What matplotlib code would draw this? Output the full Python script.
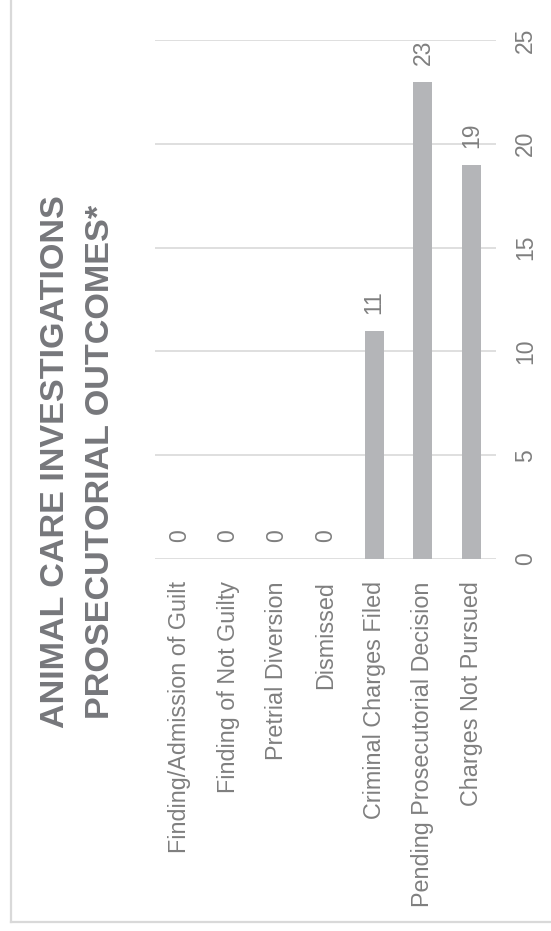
import matplotlib
matplotlib.use("Agg")
import matplotlib.pyplot as plt
from matplotlib.lines import Line2D

categories = ["Finding/Admission of Guilt", "Finding of Not Guilty", "Pretrial Diversion",
              "Dismissed", "Criminal Charges Filed", "Pending Prosecutorial Decision",
              "Charges Not Pursued"]
values = [0, 0, 0, 0, 11, 23, 19]
value_ticks = [0, 5, 10, 15, 20, 25]
title_lines = ["ANIMAL CARE INVESTIGATIONS", "PROSECUTORIAL OUTCOMES*"]

W, H = 551, 931
fig = plt.figure(figsize=(W / 100, H / 100), dpi=100)
fig.patch.set_facecolor("white")

label_color = "#7f7f7f"
grid_color = "#d9d9d9"
bar_color = "#b4b5b8"
title_color = "#76777b"
font = "Liberation Sans"

ax = fig.add_axes([155 / W, (H - 559) / H, (496 - 155) / W, (559 - 40) / H])
x = list(range(len(categories)))
bars = ax.bar(x, values, width=0.39, color=bar_color, zorder=2)
ax.set_xlim(-0.5, len(categories) - 0.5)
ax.set_ylim(0, 25)
ax.set_yticks(value_ticks)
ax.yaxis.tick_right()
ax.set_yticklabels([str(v) for v in value_ticks], rotation=90, va="center",
                   fontsize=16.5, color=label_color, family=font)
ax.tick_params(axis="y", length=0, pad=13)
ax.set_xticks(x)
ax.set_xticklabels(categories, rotation=90, ha="center", va="top",
                   fontsize=16.8, color=label_color, family=font)
ax.tick_params(axis="x", length=0, pad=16)
ax.grid(axis="y", color=grid_color, linewidth=1.2)
ax.set_axisbelow(True)
for s in ax.spines.values():
    s.set_visible(False)

for xi, v in zip(x, values):
    ax.annotate(str(v), (xi, v), xytext=(0, 12), textcoords="offset points",
                rotation=90, ha="center", va="bottom", fontsize=16.5,
                color=label_color, family=font)

fig.text(78 / W, 1 - 462 / H, "\n".join(title_lines), rotation=90,
         ha="center", va="center", multialignment="center",
         fontsize=24.6, fontweight="bold", color=title_color, family=font,
         linespacing=1.62)

# outer frame (left and bottom edges visible)
fig.add_artist(Line2D([10.5 / W, 10.5 / W], [1 - 922 / H, 1.01], color="#d9d9d9",
                      linewidth=1.6, transform=fig.transFigure))
fig.add_artist(Line2D([10.5 / W, 1.01], [1 - 922 / H, 1 - 922 / H], color="#d9d9d9",
                      linewidth=1.6, transform=fig.transFigure))

fig.savefig("out.png", dpi=100, facecolor="white")
